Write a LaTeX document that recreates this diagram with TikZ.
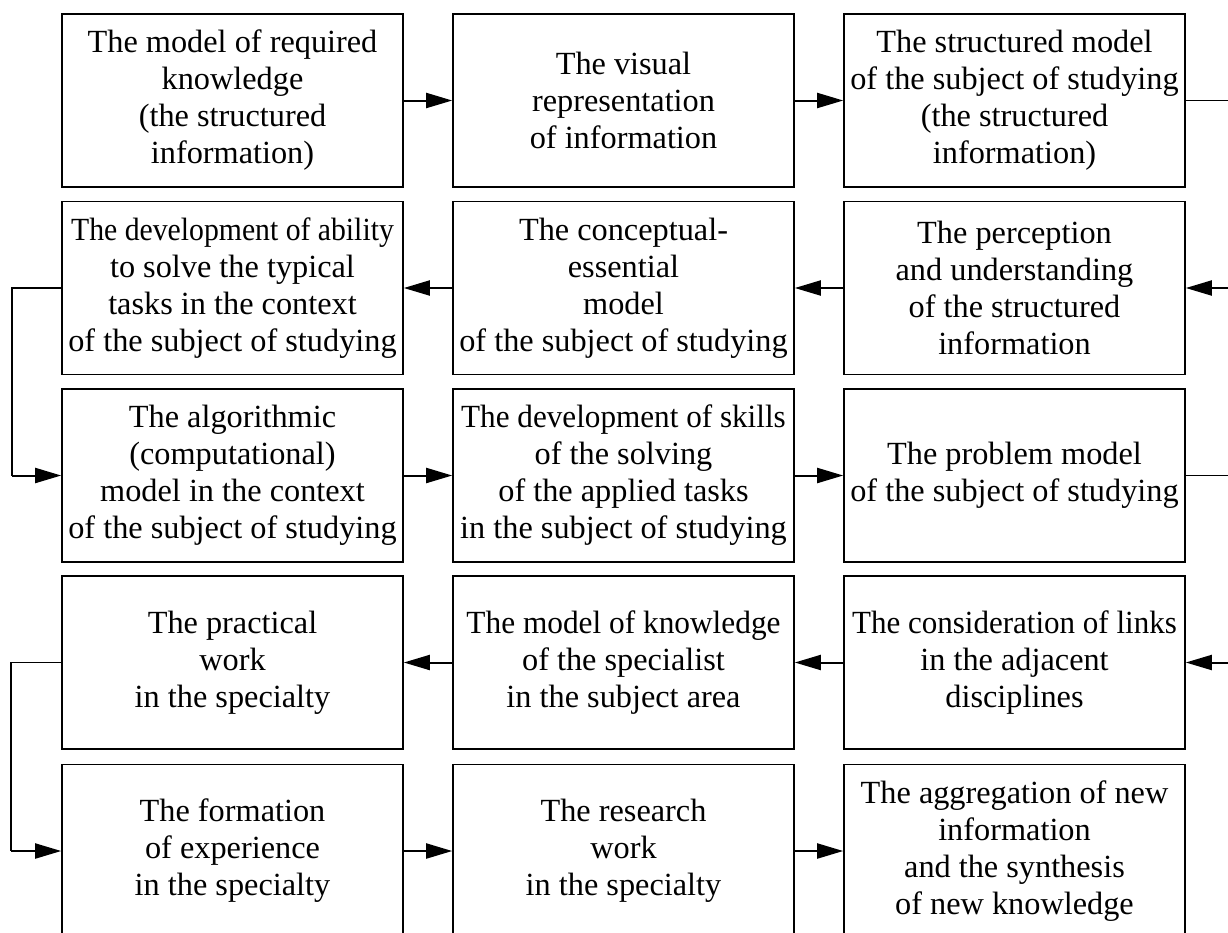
\documentclass[tikz,border=0pt]{standalone}
\usepackage{fontspec}
\usepackage{graphicx}
\setmainfont{Liberation Serif}
\usetikzlibrary{arrows.meta}
\newcommand{\squeezeline}[2]{\scalebox{#1}[1]{#2}}
\begin{document}
\begin{tikzpicture}[x=1pt,y=-1pt,
  box/.style={draw, line width=1.6pt, rectangle, minimum width=341pt, minimum height=173pt,
    inner sep=0pt, align=center,
    font=\fontsize{32.3pt}{37pt}\selectfont},
  arr/.style={line width=2pt, -{Triangle[length=26pt,width=15pt]}},
  thinline/.style={line width=1.3pt}]
\useasboundingbox (0,0) rectangle (1228,932);
\clip (0,0) rectangle (1228,932);
% rows: 100.5, 288, 475.5, 662.5, 851 ; cols: 232.5, 623.5, 1014.5
\node[box] (a11) at (232.5,100.5) {The model of required\\knowledge\\(the structured\\information)};
\node[box] (a12) at (623.5,100.5) {The visual\\representation\\of information};
\node[box] (a13) at (1014.5,100.5) {The structured model\\of the subject of studying\\(the structured\\information)};
\node[box] (a21) at (232.5,288) {\squeezeline{0.92}{The development of ability}\\to solve the typical\\tasks in the context\\of the subject of studying};
\node[box] (a22) at (623.5,288) {The conceptual-\\essential\\model\\of the subject of studying};
\node[box] (a23) at (1014.5,288) {The perception\\and understanding\\of the structured\\information};
\node[box] (a31) at (232.5,475.5) {The algorithmic\\(computational)\\model in the context\\of the subject of studying};
\node[box] (a32) at (623.5,475.5) {\squeezeline{0.965}{The development of skills}\\of the solving\\of the applied tasks\\in the subject of studying};
\node[box] (a33) at (1014.5,475.5) {The problem model\\of the subject of studying};
\node[box] (a41) at (232.5,662.5) {The practical\\work\\in the specialty};
\node[box] (a42) at (623.5,662.5) {\squeezeline{0.97}{The model of knowledge}\\of the specialist\\in the subject area};
\node[box] (a43) at (1014.5,662.5) {\squeezeline{0.96}{The consideration of links}\\in the adjacent\\disciplines};
\node[box] (a51) at (232.5,851) {The formation\\of experience\\in the specialty};
\node[box] (a52) at (623.5,851) {The research\\work\\in the specialty};
\node[box] (a53) at (1014.5,851) {The aggregation of new\\information\\and the synthesis\\of new knowledge};
% free ends
\coordinate (r1) at (1232,100.5);
\coordinate (r2) at (1232,288);
\coordinate (r3) at (1232,475.5);
\coordinate (r4) at (1232,662.5);
\coordinate (l2) at (12,288);
\coordinate (l3) at (12,475.5);
\coordinate (l4) at (11,662.5);
\coordinate (l5) at (11,851);
% row 1
\draw[arr] (a11) -- (a12);
\draw[arr] (a12) -- (a13);
\draw[thinline] (a13.east) -- (r1);
% row 2
\draw[arr] (r2) -- (a23.east);
\draw[arr] (a23) -- (a22);
\draw[arr] (a22) -- (a21);
\draw[thinline] (a21.west) -- (l2) -- (l3);
\draw[arr] (l3) -- (a31.west);
% row 3
\draw[arr] (a31) -- (a32);
\draw[arr] (a32) -- (a33);
\draw[thinline] (a33.east) -- (r3);
% row 4
\draw[arr] (r4) -- (a43.east);
\draw[arr] (a43) -- (a42);
\draw[arr] (a42) -- (a41);
\draw[thinline] (a41.west) -- (l4) -- (l5);
\draw[arr] (l5) -- (a51.west);
% row 5
\draw[arr] (a51) -- (a52);
\draw[arr] (a52) -- (a53);
\end{tikzpicture}
\end{document}
